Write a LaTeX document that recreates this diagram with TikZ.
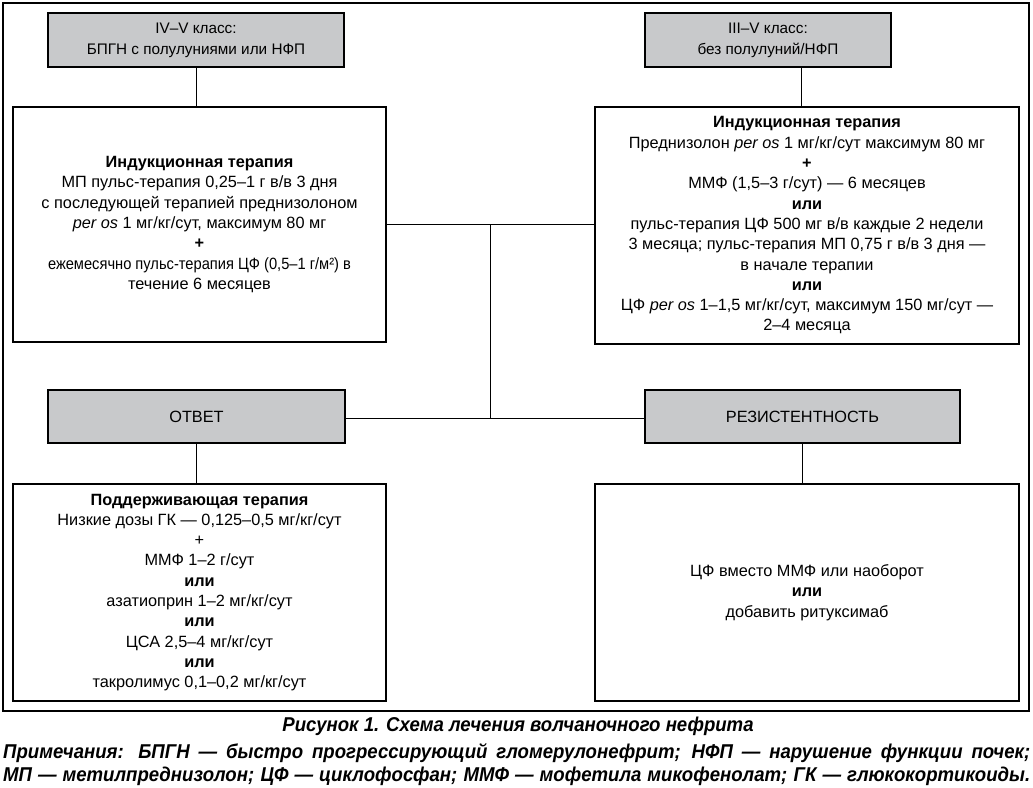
\documentclass[tikz,border=0pt]{standalone}
\usepackage{fontspec}
\usepackage{graphicx}
\setmainfont{Liberation Sans}
\newfontfamily\capfont[FakeStretch=0.93]{Liberation Sans}
\definecolor{boxgray}{RGB}{200,201,203}
\begin{document}
\begin{tikzpicture}[x=1pt,y=-1pt,
  gbox/.style={draw=black, line width=1.2pt, fill=boxgray, align=center, inner sep=0pt, font=\fontsize{15.3}{21}\selectfont},
  wbox/.style={draw=black, line width=1.2pt, fill=white, align=center, inner sep=0pt, font=\fontsize{16.3}{20.3}\selectfont},
  conn/.style={line width=1pt},
  capstyle/.style={inner sep=0pt, font=\capfont\bfseries\itshape\fontsize{20}{22}\selectfont}]
\useasboundingbox (0,0) rectangle (1033,787);
\draw[line width=1.3pt] (3,3) rectangle (1029,711);

\node[gbox, minimum width=296pt, minimum height=54pt] (t1) at (196,40) {IV–V класс:\\БПГН с полулуниями или НФП};
\node[gbox, minimum width=246pt, minimum height=54pt] (t2) at (768,40) {III–V класс:\\без полулуний/НФП};

\node[wbox, minimum width=373pt, minimum height=235pt] (ind1) at (199.5,224.5) {\textbf{Индукционная терапия}\\МП пульс-терапия 0,25–1 г в/в 3 дня\\с последующей терапией преднизолоном\\\textit{per os} 1 мг/кг/сут, максимум 80 мг\\\textbf{+}\\\scalebox{0.9}[1]{ежемесячно пульс-терапия ЦФ (0,5–1 г/м²) в}\\течение 6 месяцев};

\node[wbox, minimum width=424pt, minimum height=237pt] (ind2) at (807,225.5) {\textbf{Индукционная терапия}\\Преднизолон \textit{per os} 1 мг/кг/сут максимум 80 мг\\\textbf{+}\\ММФ (1,5–3 г/сут) — 6 месяцев\\\textbf{или}\\пульс-терапия ЦФ 500 мг в/в каждые 2 недели\\3 месяца; пульс-терапия МП 0,75 г в/в 3 дня —\\в начале терапии\\\textbf{или}\\ЦФ \textit{per os} 1–1,5 мг/кг/сут, максимум 150 мг/сут —\\2–4 месяца};

\node[gbox, font=\fontsize{16.3}{20}\selectfont, minimum width=297pt, minimum height=53pt] (otv) at (196.5,416.5) {ОТВЕТ};
\node[gbox, font=\fontsize{16.3}{20}\selectfont, minimum width=315pt, minimum height=53pt] (rez) at (802.5,416.5) {РЕЗИСТЕНТНОСТЬ};

\node[wbox, minimum width=373pt, minimum height=217pt] (bl) at (199.5,592.5) {\textbf{Поддерживающая терапия}\\Низкие дозы ГК — 0,125–0,5 мг/кг/сут\\+\\ММФ 1–2 г/сут\\\textbf{или}\\азатиоприн 1–2 мг/кг/сут\\\textbf{или}\\ЦСА 2,5–4 мг/кг/сут\\\textbf{или}\\такролимус 0,1–0,2 мг/кг/сут};

\node[wbox, minimum width=424pt, minimum height=217pt] (br) at (807,592.5) {ЦФ вместо ММФ или наоборот\\\textbf{или}\\добавить ритуксимаб};

\coordinate (hub) at (490,224);
\coordinate (hub2) at (490,418);
\draw[conn] (t1.south) -- (t1.south |- ind1.north);
\draw[conn] ([xshift=33pt]t2.south) -- ([xshift=33pt]t2.south |- ind2.north);
\draw[conn] (ind1.east |- hub) -- (ind2.west |- hub);
\draw[conn] (hub) -- (hub2);
\draw[conn] (otv.east |- hub2) -- (rez.west |- hub2);
\draw[conn] (otv.south) -- (otv.south |- bl.north);
\draw[conn] (rez.south) -- (rez.south |- br.north);

\node[capstyle] (cap) at (518,726) {Рисунок 1. Схема лечения волчаночного нефрита};
\node[capstyle, anchor=west] (n1) at (3,753) {\makebox[1027pt][s]{Примечания: БПГН — быстро прогрессирующий гломерулонефрит; НФП — нарушение функции почек;}};
\node[capstyle, anchor=west] (n2) at (3,776) {\makebox[1027pt][s]{МП — метилпреднизолон; ЦФ — циклофосфан; ММФ — мофетила микофенолат; ГК — глюкокортикоиды.}};
\end{tikzpicture}
\end{document}
